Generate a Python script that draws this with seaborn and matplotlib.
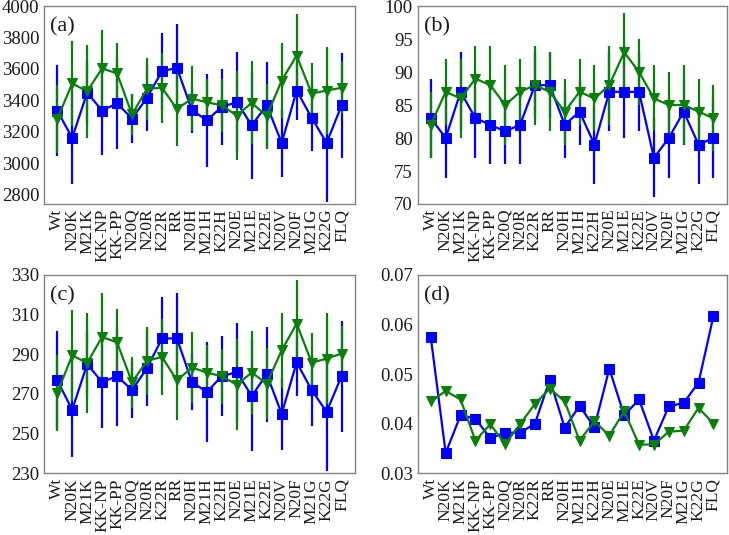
import numpy as np
import pandas as pd
import matplotlib
matplotlib.use("Agg")
import matplotlib.pyplot as plt
import seaborn as sns

categories = ["Wt", "N20K", "M21K", "KK-NP", "KK-PP", "N20Q", "N20R", "K22R", "RR", "N20H",
              "M21H", "K22H", "N20E", "M21E", "K22E", "N20V", "N20F", "M21G", "K22G", "FLQ"]

# panel (a)
a_blue = [3335, 3161, 3448, 3335, 3380, 3284, 3416, 3585, 3607, 3337,
          3273, 3358, 3388, 3241, 3369, 3129, 3462, 3289, 3129, 3367]
a_blue_err = [289, 293, 200, 280, 287, 155, 213, 245, 276, 148,
              295, 240, 320, 340, 276, 216, 190, 213, 376, 337]
a_green = [3280, 3507, 3458, 3603, 3571, 3310, 3473, 3480, 3346, 3410,
           3388, 3367, 3303, 3384, 3299, 3526, 3685, 3443, 3462, 3480]
a_green_err = [215, 270, 297, 242, 195, 133, 198, 223, 238, 207,
               150, 170, 285, 265, 206, 236, 262, 196, 276, 170]

# panel (b)
b_blue = [83, 80, 87, 83, 82, 81, 82, 88, 88, 82, 84, 79, 87, 87, 87, 77, 80, 84, 79, 80]
b_blue_err = [6, 6, 6, 6, 6, 5, 6, 5, 5, 5, 5, 6, 6, 7, 6, 6, 6, 5, 6, 6]
b_green = [82, 87, 86, 89, 88, 85, 87, 88, 87, 84, 87, 86, 88, 93, 90, 86, 85, 85, 84, 83]
b_green_err = [5, 5, 6, 5, 6, 6, 5, 6, 6, 5, 5, 5, 6, 6, 5, 5, 5, 6, 5, 5]

# panel (c)
c_blue = [277, 262, 285, 276, 279, 272, 283, 298, 298, 276,
          271, 279, 281, 269, 280, 260, 286, 272, 261, 279]
c_blue_err = [25, 24, 17, 23, 25, 14, 19, 21, 23, 14,
              25, 20, 25, 28, 24, 18, 17, 18, 30, 28]
c_green = [270.5, 289.5, 285.6, 298.8, 296, 275.9, 286.7, 288.7, 276.9, 283.3,
           280.8, 278.9, 274.7, 280.8, 275.2, 292, 305.5, 285.8, 287.8, 290.4]
c_green_err = [19, 23, 25, 22, 17, 13, 17, 19, 20, 18,
               14, 14, 23, 21, 18, 19, 22, 15, 23, 14]

# panel (d)
d_blue = [0.0574, 0.0341, 0.0417, 0.0410, 0.0371, 0.0382, 0.0382, 0.0400, 0.0489, 0.0392,
          0.0436, 0.0393, 0.0511, 0.0417, 0.0449, 0.0366, 0.0435, 0.0442, 0.0483, 0.0617]
d_green = [0.0445, 0.0466, 0.0449, 0.0366, 0.0399, 0.0359, 0.0399, 0.0440, 0.0471, 0.0445,
           0.0366, 0.0405, 0.0376, 0.0425, 0.0358, 0.0358, 0.0384, 0.0386, 0.0432, 0.0400]

sns.set_style("white")
plt.rcParams["font.family"] = ["Liberation Serif", "DejaVu Serif"]

BLUE = "#0000FF"
GREEN = "#0A800A"
SPINE = "#808080"

fig = plt.figure(figsize=(7.29, 5.35), dpi=100)

panels = [
    ("(a)", [0.0604, 0.6187, 0.4266, 0.370], a_blue, a_blue_err, a_green, a_green_err,
     (2740, 4000), np.arange(2800, 4001, 200)),
    ("(b)", [0.573, 0.6187, 0.424, 0.370], b_blue, b_blue_err, b_green, b_green_err,
     (70, 100), np.arange(70, 101, 5)),
    ("(c)", [0.0604, 0.1153, 0.4266, 0.3707], c_blue, c_blue_err, c_green, c_green_err,
     (230, 330), np.arange(230, 331, 20)),
    ("(d)", [0.573, 0.1153, 0.424, 0.3707], d_blue, None, d_green, None,
     (0.03, 0.07), [0.03, 0.04, 0.05, 0.06, 0.07]),
]

x = np.arange(len(categories))

for label, pos, yb, eb, yg, eg, ylim, yticks in panels:
    ax = fig.add_axes(pos)
    df = pd.DataFrame({"x": x, "blue": yb, "green": yg})
    if eb is not None:
        ax.errorbar(x, yb, yerr=eb, fmt="none", ecolor=BLUE, elinewidth=1.6, capsize=0, zorder=1)
        ax.errorbar(x, yg, yerr=eg, fmt="none", ecolor=GREEN, elinewidth=1.6, capsize=0, zorder=2)
    sns.lineplot(data=df, x="x", y="blue", ax=ax, color=BLUE, marker="s", markersize=6.8,
                 markeredgecolor=BLUE, linewidth=1.6, errorbar=None, sort=False, zorder=3)
    sns.lineplot(data=df, x="x", y="green", ax=ax, color=GREEN, marker="v", markersize=7.5,
                 markeredgecolor=GREEN, linewidth=1.6, errorbar=None, sort=False, zorder=4)
    ax.set_xlim(-0.88, 19.9)
    ax.set_ylim(*ylim)
    ax.set_yticks(yticks)
    if label == "(d)":
        ax.set_yticklabels([f"{v:.2f}" for v in yticks])
    ax.set_xticks(x)
    ax.set_xticklabels(categories, rotation=90)
    ax.set_xlabel("")
    ax.set_ylabel("")
    for s in ax.spines.values():
        s.set_color(SPINE)
        s.set_linewidth(1.0)
    ax.tick_params(axis="both", direction="out", length=2, width=0.8, color=SPINE,
                   labelcolor="#1a1a1a", pad=1.5)
    ax.tick_params(axis="y", labelsize=13.5)
    ax.tick_params(axis="x", labelsize=12.5)
    ax.text(0.02, 0.895, label, transform=ax.transAxes, fontsize=16, va="center", ha="left",
            color="#1a1a1a")

fig.savefig("out.png", dpi=100)
